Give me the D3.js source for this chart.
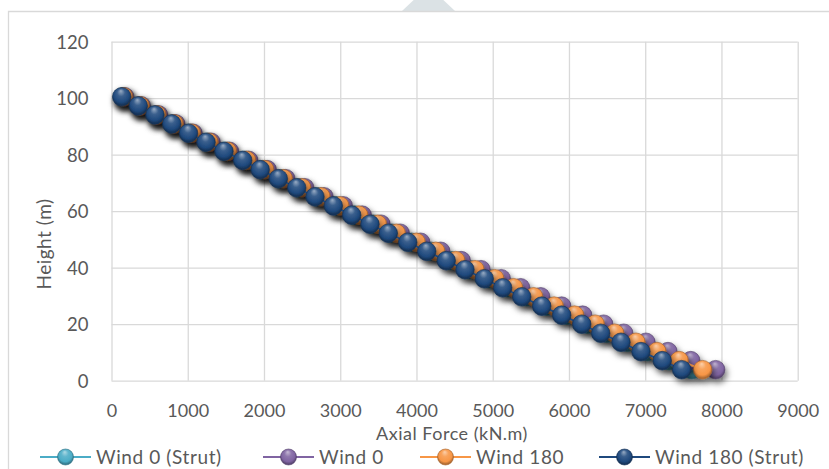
<!DOCTYPE html>
<html>
<head>
<meta charset="utf-8">
<script src="https://cdn.jsdelivr.net/npm/d3@7"></script>
<style>
  html, body { margin: 0; padding: 0; background: #ffffff; }
  svg { display: block; }
  text { font-family: Lato, "Noto Sans", sans-serif; fill: #595959; }
</style>
</head>
<body>
<svg id="chart" width="829" height="469"></svg>
<script>
// Heights of the measuring stations (m)
const heights = [100.5, 97.3, 94.1, 90.9, 87.6, 84.4, 81.2, 78.0, 74.7, 71.5,
                 68.3, 65.1, 61.9, 58.6, 55.4, 52.2, 49.0, 45.8, 42.5, 39.3,
                 36.1, 32.9, 29.7, 26.4, 23.2, 20.0, 16.8, 13.6, 10.3, 7.1, 3.9];

// Axial force at each height (kN.m), one array per load case
const wind0Strut = [147, 366, 587, 809, 1031, 1263, 1500, 1748, 1980, 2220,
                    2463, 2705, 2948, 3192, 3435, 3678, 3936, 4188, 4446, 4695,
                    4951, 5195, 5448, 5713, 5978, 6244, 6496, 6766, 7031, 7313, 7612];
const wind0 = [173, 390, 616, 842, 1069, 1306, 1547, 1799, 2042, 2286,
               2534, 2787, 3040, 3288, 3534, 3787, 4055, 4318, 4587, 4846,
               5112, 5366, 5629, 5904, 6179, 6455, 6718, 7010, 7298, 7597, 7924];
const wind180 = [160, 377, 596, 823, 1049, 1279, 1521, 1772, 2009, 2254,
                 2495, 2748, 2994, 3242, 3488, 3735, 3996, 4252, 4515, 4767,
                 5027, 5274, 5537, 5806, 6074, 6344, 6600, 6879, 7154, 7446, 7753];
const wind180Strut = [134, 351, 570, 790, 1010, 1240, 1475, 1720, 1950, 2188,
                      2429, 2669, 2909, 3150, 3390, 3630, 3885, 4134, 4390, 4636,
                      4889, 5130, 5380, 5642, 5904, 6167, 6416, 6682, 6944, 7223, 7478];

const seriesNames = ["Wind 0 (Strut)", "Wind 0", "Wind 180", "Wind 180 (Strut)"];
const seriesColors = ["#4bacc6", "#8064a2", "#f79646", "#1f497d"];
const xTicks = [0, 1000, 2000, 3000, 4000, 5000, 6000, 7000, 8000, 9000];
const yTicks = [0, 20, 40, 60, 80, 100, 120];

const series = [wind0Strut, wind0, wind180, wind180Strut].map((vals, i) => ({
  name: seriesNames[i],
  color: seriesColors[i],
  points: vals.map((v, j) => ({ x: v, y: heights[j] }))
}));

const svg = d3.select("#chart");
const plotLeft = 111.5, plotRight = 797.7, plotTop = 41.7, plotBottom = 380.7;

const x = d3.scaleLinear().domain([0, 9000]).range([plotLeft, plotRight]);
const y = d3.scaleLinear().domain([0, 120]).range([plotBottom, plotTop]);

// Outer chart frame and the shape peeking in at the top
svg.append("polygon")
  .attr("points", "402,11 455,11 428.5,-14")
  .attr("fill", "#dbe2e5");
svg.append("path")
  .attr("d", "M8.5,480 V11.5 H840")
  .attr("fill", "none")
  .attr("stroke", "#d9d9d9")
  .attr("stroke-width", 1.3);

// Shading for the sphere markers
const defs = svg.append("defs");
function shade(c, k) { return k >= 0 ? d3.interpolateRgb(c, "#ffffff")(k) : d3.interpolateRgb(c, "#000000")(-k); }
seriesColors.forEach((c, i) => {
  const g = defs.append("radialGradient")
    .attr("id", "ball" + i)
    .attr("cx", "50%").attr("cy", "45%").attr("r", "60%")
    .attr("fx", "45%").attr("fy", "18%");
  g.append("stop").attr("offset", "0%").attr("stop-color", shade(c, 0.55));
  g.append("stop").attr("offset", "35%").attr("stop-color", shade(c, 0.12));
  g.append("stop").attr("offset", "70%").attr("stop-color", c);
  g.append("stop").attr("offset", "88%").attr("stop-color", shade(c, -0.3));
  g.append("stop").attr("offset", "100%").attr("stop-color", shade(c, -0.1));
});
const f = defs.append("filter").attr("id", "shadow")
  .attr("x", "-20%").attr("y", "-20%").attr("width", "140%").attr("height", "140%");
f.append("feDropShadow")
  .attr("dx", 2).attr("dy", 4).attr("stdDeviation", 3)
  .attr("flood-color", "#000000").attr("flood-opacity", 0.55);

// Gridlines and tick labels
const xAxis = d3.axisBottom(x).tickValues(xTicks).tickSizeInner(-(plotBottom - plotTop)).tickSizeOuter(0).tickFormat(d3.format("d"));
const gx = svg.append("g").attr("transform", `translate(0,${plotBottom})`).call(xAxis);
gx.select(".domain").remove();
gx.selectAll("line").attr("stroke", "#d9d9d9").attr("stroke-width", 1.3);
gx.selectAll("text").attr("y", 30.3).attr("dy", "0.35em")
  .style("font-family", "Lato, sans-serif").style("font-size", "18px").attr("fill", "#595959");

const yAxis = d3.axisLeft(y).tickValues(yTicks).tickSizeInner(-(plotRight - plotLeft)).tickSizeOuter(0);
const gy = svg.append("g").attr("transform", `translate(${plotLeft},0)`).call(yAxis);
gy.select(".domain").remove();
gy.selectAll("line").attr("stroke", "#d9d9d9").attr("stroke-width", 1.3);
gy.selectAll("text").attr("x", -23).attr("dy", "0.35em")
  .style("font-family", "Lato, sans-serif").style("font-size", "18.5px").attr("fill", "#595959");

// Axis titles
svg.append("text")
  .attr("x", 452).attr("y", 433.5).attr("dy", "0.35em")
  .attr("text-anchor", "middle")
  .style("font-size", "18px")
  .style("letter-spacing", "0.5px")
  .text("Axial Force (kN.m)");
svg.append("text")
  .attr("transform", "translate(44,244) rotate(-90)")
  .attr("dy", "0.35em")
  .attr("text-anchor", "middle")
  .style("font-size", "19px")
  .style("letter-spacing", "0.5px")
  .text("Height (m)");

// Series: connecting line plus sphere markers
const line = d3.line().x(d => x(d.x)).y(d => y(d.y));
series.forEach((s, i) => {
  const g = svg.append("g").attr("filter", "url(#shadow)");
  g.append("path")
    .attr("d", line(s.points))
    .attr("fill", "none")
    .attr("stroke", s.color)
    .attr("stroke-width", 1.8);
  g.selectAll("circle").data(s.points).join("circle")
    .attr("cx", d => x(d.x))
    .attr("cy", d => y(d.y))
    .attr("r", 9.3)
    .attr("fill", `url(#ball${i})`)
    .attr("stroke", shade(s.color, -0.35))
    .attr("stroke-width", 0.6);
});

// Legend
const legendX = [40, 263, 420, 599];
const legend = svg.append("g");
series.forEach((s, i) => {
  const lg = legend.append("g").attr("transform", `translate(${legendX[i]},457)`);
  lg.append("line").attr("x1", 0).attr("x2", 51).attr("y1", 0).attr("y2", 0)
    .attr("stroke", s.color).attr("stroke-width", 1.8);
  lg.append("circle").attr("cx", 25.5).attr("cy", 0).attr("r", 8)
    .attr("fill", `url(#ball${i})`)
    .attr("stroke", shade(s.color, -0.35)).attr("stroke-width", 0.6);
  lg.append("text").attr("x", 56).attr("y", 0).attr("dy", "0.35em")
    .style("font-size", "19px")
    .style("letter-spacing", "0.6px")
    .text(s.name);
});
</script>
</body>
</html>
